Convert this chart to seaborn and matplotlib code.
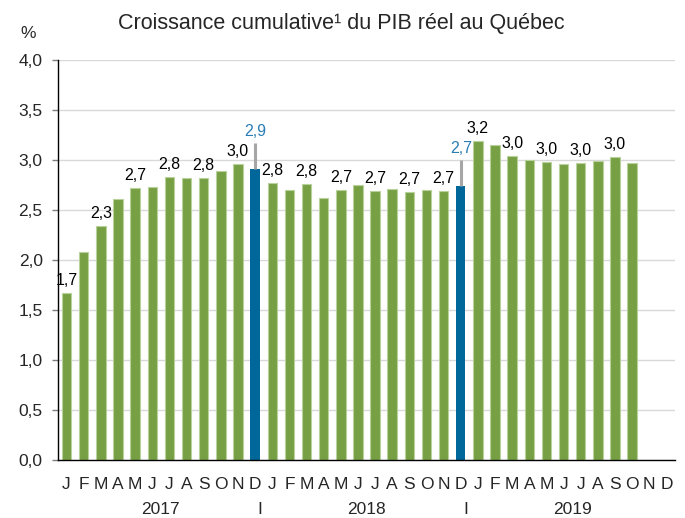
import pandas as pd
import matplotlib
matplotlib.use("Agg")
import matplotlib.pyplot as plt
import matplotlib.transforms as mtransforms
from matplotlib.ticker import FuncFormatter
import seaborn as sns

# Monthly data, Jan 2017 -> Dec 2019 (Nov and Dec 2019 not published yet)
years = ['2017', '2018', '2019']
months = ['J', 'F', 'M', 'A', 'M', 'J', 'J', 'A', 'S', 'O', 'N', 'D']
values_2017 = [1.67, 2.08, 2.34, 2.61, 2.72, 2.73, 2.83, 2.82, 2.82, 2.89, 2.96, 2.91]
values_2018 = [2.77, 2.70, 2.76, 2.62, 2.70, 2.75, 2.69, 2.71, 2.68, 2.70, 2.69, 2.74]
values_2019 = [3.19, 3.15, 3.04, 3.00, 2.98, 2.96, 2.97, 2.99, 3.03, 2.97, None, None]

# which bars carry a value label (every other month + the Decembers)
labelled = [0, 2, 4, 6, 8, 10, 11, 12, 14, 16, 18, 20, 22, 23, 24, 26, 28, 30, 32]

green = '#77A045'
green_edge = '#B9D29C'
blue = '#00679A'
blue_text = '#2A7DB5'

rows = []
for y, vals in zip(years, [values_2017, values_2018, values_2019]):
    for m, v in enumerate(vals):
        rows.append({'slot': f'{y}-{m + 1:02d}', 'month': months[m], 'value': v,
                     'kind': 'dec' if m == 11 else 'month'})
df = pd.DataFrame(rows)
df['value'] = pd.to_numeric(df['value'])
order = list(df['slot'])

sns.set_style('white')
plt.rcParams['font.family'] = ['Liberation Sans', 'DejaVu Sans']

fig = plt.figure(figsize=(6.85, 5.18), dpi=100)
ax = fig.add_axes([58 / 685, 1 - 460 / 518, 617 / 685, 400 / 518])

ax.yaxis.grid(True, color='#D9D9D9', linewidth=1)
ax.set_axisbelow(True)

data = df.dropna(subset=['value'])
sns.barplot(data=data, x='slot', y='value', hue='kind', order=order,
            palette={'month': green, 'dec': blue}, dodge=False, legend=False,
            width=0.55, saturation=1, ax=ax)

for p in ax.patches:
    if p.get_height() and p.get_facecolor()[:3] == matplotlib.colors.to_rgb(green):
        p.set_edgecolor(green_edge)
        p.set_linewidth(0.8)
    else:
        p.set_linewidth(0)

ax.set_xlim(-0.5, 35.5)
ax.set_ylim(0, 4.0)
ax.set_yticks([i * 0.5 for i in range(9)])
ax.yaxis.set_major_formatter(FuncFormatter(lambda v, _: f'{v:.1f}'.replace('.', ',')))
ax.set_xticks(range(36))
ax.set_xticklabels(df['month'])
ax.tick_params(axis='x', length=0, pad=12, labelsize=12.5)
ax.tick_params(axis='y', length=4, color='#7F7F7F', width=1, pad=7, labelsize=12.5, left=True)
ax.set_xlabel('')
ax.set_ylabel('')

for s in ['top', 'right']:
    ax.spines[s].set_visible(False)
ax.spines['left'].set_color('black')
ax.spines['bottom'].set_color('black')
ax.spines['left'].set_linewidth(1)
ax.spines['bottom'].set_linewidth(1)

# value labels
for i in labelled:
    v = df['value'][i]
    txt = f'{v:.1f}'.replace('.', ',')
    if df['kind'][i] == 'dec':
        ax.plot([i, i], [v, v + 0.26], color='#A6A6A6', linewidth=2.2, solid_capstyle='butt')
        ax.annotate(txt, (i, v + 0.26), xytext=(0, 3), textcoords='offset points',
                    ha='center', va='bottom', fontsize=11.5, color=blue_text)
    else:
        ax.annotate(txt, (i, v), xytext=(0, 3.5), textcoords='offset points',
                    ha='center', va='bottom', fontsize=11.5, color='black')

# year labels and separators
trans = mtransforms.blended_transform_factory(ax.transData, ax.transAxes)
for k, y in enumerate(years):
    ax.text(12 * k + 5.5, -49 / 400, y, transform=trans, ha='center', va='center', fontsize=12.5)
for k in [1, 2]:
    ax.text(12 * k - 0.7, -49 / 400, 'I', transform=trans, ha='center', va='center', fontsize=12.5)

fig.text(341 / 685, 1 - 23 / 518, 'Croissance cumulative¹ du PIB réel au Québec',
         ha='center', va='center', fontsize=15.5)
fig.text(28 / 685, 1 - 33 / 518, '%', ha='center', va='center', fontsize=12.5)

fig.savefig('out.png', dpi=100)
